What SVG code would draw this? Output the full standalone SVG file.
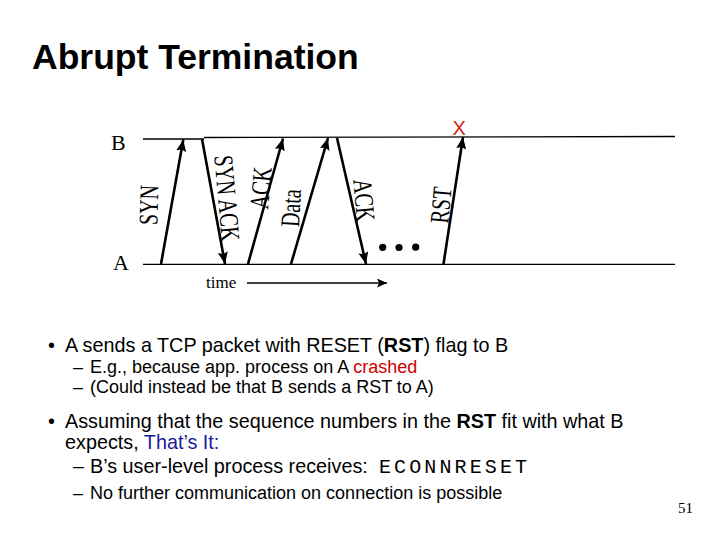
<svg xmlns="http://www.w3.org/2000/svg" width="720" height="540" viewBox="0 0 720 540">
<style>
.title{font-family:"Liberation Sans",Arial,sans-serif;font-weight:bold;font-size:35.5px;fill:#000}
.lbl{font-family:"Liberation Serif","Times New Roman",serif;font-size:20px;fill:#000}
.host{font-family:"Liberation Serif","Times New Roman",serif;font-size:22px;fill:#000}
.b1{font-family:"Liberation Sans",Arial,sans-serif;font-size:19.8px;fill:#000}
.b2{font-family:"Liberation Sans",Arial,sans-serif;font-size:18px;fill:#000}
.mono{font-family:"Liberation Mono","Courier New",monospace;font-size:20px}
.tl{stroke:#000;stroke-width:1.3;fill:none}
.msg{stroke:#000;stroke-width:2.6;fill:none;marker-end:url(#ah)}
.bold{font-weight:bold}
.red{fill:#CC0000}
.blue{fill:#1A1A99}
</style>
<defs>
<marker id="ah" markerUnits="userSpaceOnUse" markerWidth="13" markerHeight="10" refX="12" refY="5" orient="auto">
<path d="M0,0 L12,5 L0,10 L2,5 z" fill="#000"/>
</marker>
<marker id="ah2" markerUnits="userSpaceOnUse" markerWidth="11" markerHeight="9" refX="10" refY="4.5" orient="auto">
<path d="M0,0 L10,4.5 L0,9 L2,4.5 z" fill="#000"/>
</marker>
</defs>
<text class="title" x="32" y="69">Abrupt Termination</text>
<g id="timelines">
<line class="tl" x1="143" y1="139" x2="204" y2="139"/>
<line class="tl" x1="204" y1="137.5" x2="675" y2="136.5"/>
<line class="tl" x1="143" y1="264.3" x2="675" y2="264.3"/>
</g>
<g id="hostB"><text class="host" x="111" y="150">B</text></g>
<g id="hostA"><text class="host" x="113" y="270">A</text></g>
<g id="connectors">
<line class="msg" x1="161" y1="264" x2="183.3" y2="139.5"/>
<line class="msg" x1="202" y1="139" x2="225" y2="264"/>
<line class="msg" x1="248" y1="264" x2="283" y2="138.5"/>
<line class="msg" x1="291" y1="264" x2="328" y2="138"/>
<line class="msg" x1="337" y1="138" x2="366" y2="264"/>
<line class="msg" x1="443.5" y1="264" x2="463" y2="137"/>
<line x1="247" y1="283" x2="387" y2="283" stroke="#000" stroke-width="1.5" marker-end="url(#ah2)"/>
</g>
<g id="label-syn"><text class="lbl" text-anchor="middle" transform="translate(149,205) rotate(-88) scale(1,1.35)" y="6.6">SYN</text></g>
<g id="label-synack"><text class="lbl" text-anchor="middle" transform="translate(227,198) rotate(85) scale(1,1.35)" y="6.6">SYN ACK</text></g>
<g id="label-ack1"><text class="lbl" text-anchor="middle" transform="translate(261,188) rotate(-85) scale(1,1.35)" y="6.6">ACK</text></g>
<g id="label-data"><text class="lbl" text-anchor="middle" transform="translate(291,208) rotate(-87) scale(1,1.35)" y="6.6">Data</text></g>
<g id="label-ack2"><text class="lbl" text-anchor="middle" transform="translate(364,200) rotate(85) scale(1,1.35)" y="6.6">ACK</text></g>
<g id="label-rst"><text class="lbl" text-anchor="middle" transform="translate(441,205) rotate(-85) scale(1,1.35)" y="6.6">RST</text></g>
<g id="crash"><text x="452.5" y="135" font-family="Liberation Sans,Arial,sans-serif" font-size="20px" fill="#D42020">X</text></g>
<g id="dots" fill="#000">
<circle cx="382.7" cy="247.3" r="3.6"/>
<circle cx="399" cy="247.5" r="3.6"/>
<circle cx="415.7" cy="247.2" r="3.6"/>
</g>
<g id="time"><text x="206" y="288" font-family="Liberation Serif,Times New Roman,serif" font-size="17px">time</text></g>
<g id="bullets">
<text class="b1" x="48" y="352">•</text>
<text class="b1" x="65" y="352">A sends a TCP packet with RESET (<tspan class="bold">RST</tspan>) flag to B</text>
<text class="b2" x="73" y="373">–</text>
<text class="b2" x="90" y="373">E.g., because app. process on A <tspan class="red">crashed</tspan></text>
<text class="b2" x="73" y="393">–</text>
<text class="b2" x="90" y="393">(Could instead be that B sends a RST to A)</text>
<text class="b1" x="48" y="428">•</text>
<text class="b1" x="65" y="428">Assuming that the sequence numbers in the <tspan class="bold">RST</tspan> fit with what B</text>
<text class="b1" x="65" y="449">expects, <tspan class="blue">That’s It:</tspan></text>
<text class="b1" x="73" y="473">–</text>
<text class="b1" x="90" y="473">B’s user-level process receives: </text>
<text class="mono" x="379" y="473" textLength="148" lengthAdjust="spacing">ECONNRESET</text>
<text class="b2" x="73" y="499">–</text>
<text class="b2" x="90" y="499">No further communication on connection is possible</text>
</g>
<text x="678" y="513" font-family="Liberation Serif,Times New Roman,serif" font-size="15px">51</text>
</svg>
